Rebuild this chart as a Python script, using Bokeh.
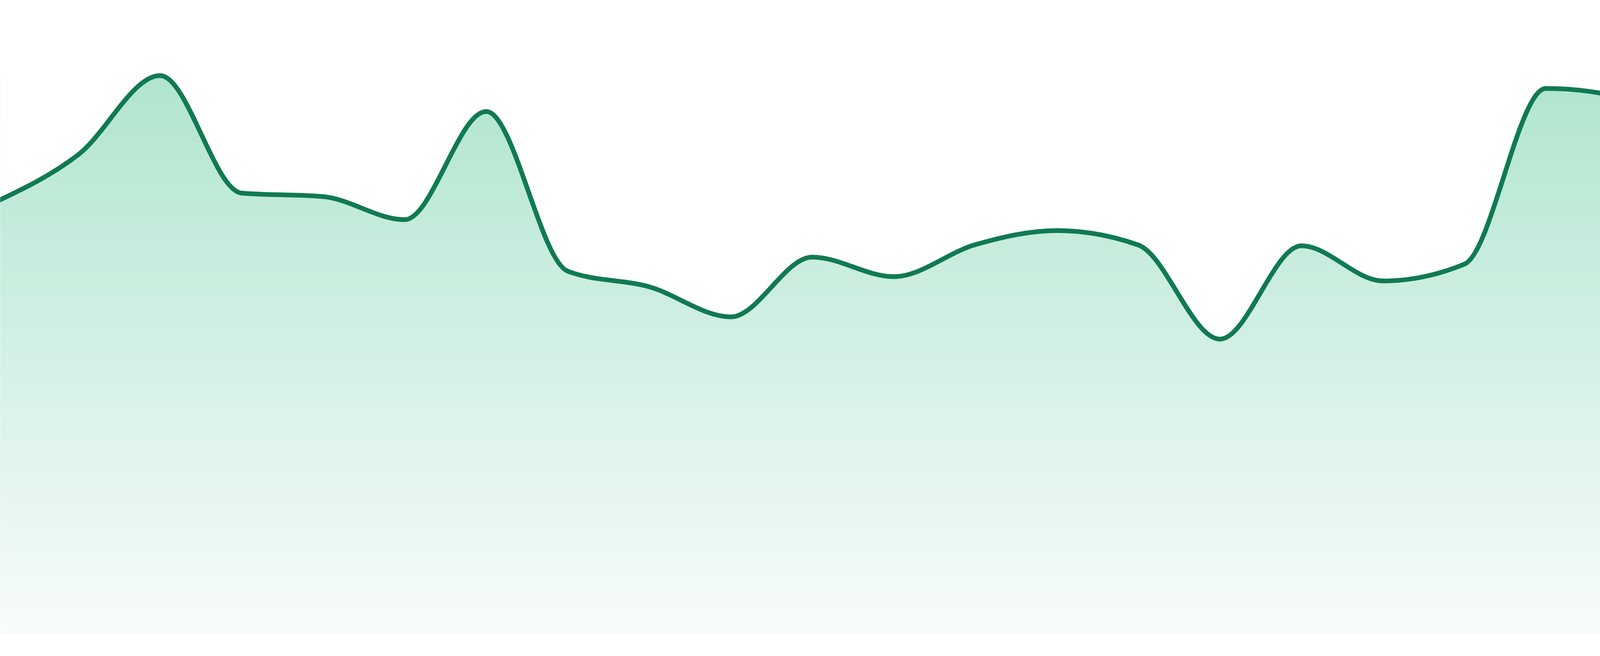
import numpy as np
from bokeh.plotting import figure
from bokeh.models import Range1d
from bokeh.embed import file_html
from bokeh.resources import INLINE

# ---- data -------------------------------------------------------------
periods = list(range(24))
values = [110.9, 122.9, 143.1, 113.0, 112.1, 106.2, 133.9, 93.0, 89.0, 81.3,
          96.6, 91.6, 99.8, 103.4, 99.7, 75.6, 99.5, 90.5, 94.8, 139.8,
          137.1, 121.2, 127.1, 130.9]
baseline = 0.0

# ---- styles -------------------------------------------------------------
LINE_COLOR = "#117a52"
TOP_RGB = (176, 229, 207)
BOTTOM_RGB = (248, 252, 250)

W, H = 4784, 1664


def monotone_beziers(xs, ys):
    """Cubic Bezier control points of a monotone-x curve through the nodes."""
    xs = np.asarray(xs, float)
    ys = np.asarray(ys, float)
    n = len(xs)
    h = np.diff(xs)
    s = np.diff(ys) / h
    t = np.zeros(n)
    for i in range(1, n - 1):
        p = (s[i - 1] * h[i] + s[i] * h[i - 1]) / (h[i - 1] + h[i])
        t[i] = (np.sign(s[i - 1]) + np.sign(s[i])) * min(abs(s[i - 1]), abs(s[i]), 0.5 * abs(p))
    t[0] = (3 * s[0] - t[1]) / 2
    t[-1] = (3 * s[-1] - t[-2]) / 2
    dx = h / 3
    return dict(x0=xs[:-1], y0=ys[:-1], x1=xs[1:], y1=ys[1:],
                cx0=xs[:-1] + dx, cy0=ys[:-1] + dx * t[:-1],
                cx1=xs[1:] - dx, cy1=ys[1:] - dx * t[1:])


segs = monotone_beziers(periods, values)

# outline of the curve for the fill boundary (rendering of the same Beziers)
tt = np.linspace(0, 1, 60)[:, None]
def _bez(a, ca, cb, b):
    return ((1 - tt) ** 3) * a + 3 * ((1 - tt) ** 2) * tt * ca + 3 * (1 - tt) * tt ** 2 * cb + tt ** 3 * b
cx = _bez(segs["x0"], segs["cx0"], segs["cx1"], segs["x1"]).T.ravel()
cy = _bez(segs["y0"], segs["cy0"], segs["cy1"], segs["y1"]).T.ravel()

px_per_x = 4800 / (len(periods) - 1)
x_start = 8 / px_per_x
x_end = 4792 / px_per_x
y_start = (1632 - 1672) / 10
y_end = (1632 - 8) / 10

p = figure(width=W, height=H, output_backend="svg", toolbar_location=None,
           x_range=Range1d(x_start, x_end), y_range=Range1d(y_start, y_end),
           x_axis_type=None, y_axis_type=None, min_border=0,
           background_fill_color="white", border_fill_color="white")
p.outline_line_color = None
p.grid.visible = False

# vertical gradient fill
top_val = max(values)
N = 1432
frac = np.linspace(0, 1, N)[:, None]  # 0 bottom -> 1 top
img = np.empty((N, 2), dtype=np.uint32)
view = img.view(dtype=np.uint8).reshape((N, 2, 4))
for c in range(3):
    view[:, :, c] = np.round(BOTTOM_RGB[c] + (TOP_RGB[c] - BOTTOM_RGB[c]) * frac).astype(np.uint8)
view[:, :, 3] = 255
p.image_rgba(image=[img], x=periods[0], y=baseline,
             dw=periods[-1] - periods[0], dh=top_val - baseline)

# white mask above the curve
p.varea(x=cx, y1=cy, y2=y_end + 5, fill_color="white")

# the line
p.bezier(x0=segs["x0"], y0=segs["y0"], x1=segs["x1"], y1=segs["y1"],
         cx0=segs["cx0"], cy0=segs["cy0"], cx1=segs["cx1"], cy1=segs["cy1"],
         line_color=LINE_COLOR, line_width=12, line_cap="round")

open("out.html", "w").write(file_html(p, INLINE))
